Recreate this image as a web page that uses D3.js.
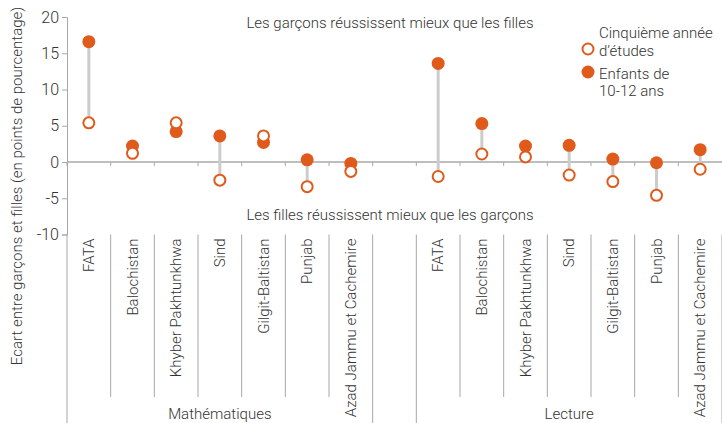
<!DOCTYPE html>
<html>
<head>
<meta charset="utf-8">
<script src="https://cdn.jsdelivr.net/npm/d3@7"></script>
<style>
  body { margin: 0; background: #fff; }
  text { font-family: "Roboto", sans-serif; font-weight: 300; fill: #333; }
</style>
</head>
<body>
<div id="chart-area"></div>
<script>
var regions = ["FATA", "Balochistan", "Khyber Pakhtunkhwa", "Sind", "Gilgit-Baltistan", "Punjab", "Azad Jammu et Cachemire"];
var subjects = ["Mathématiques", "Lecture"];
var grade5 = [
    [5.4, 1.2, 5.4, -2.5, 3.6, -3.4, -1.3],
    [-2.0, 1.1, 0.7, -1.8, -2.7, -4.6, -1.0]
];
var age1012 = [
    [16.6, 2.2, 4.2, 3.6, 2.7, 0.3, -0.2],
    [13.6, 5.3, 2.2, 2.3, 0.4, -0.1, 1.7]
];
var yTicks = [20, 15, 10, 5, 0, -5, -10];

var width = 722;
var height = 423;
var orange = "#e05a1b";
var axisGrey = "#a8a8a8";

// one slot per region, plus an empty slot between the two subjects
var slots = [];
subjects.forEach(function(s, i) {
    if (i > 0) slots.push("gap");
    regions.forEach(function(r) { slots.push(s + "|" + r); });
});

var data = [];
subjects.forEach(function(s, i) {
    regions.forEach(function(r, j) {
        data.push({ key: s + "|" + r, region: r, open: grade5[i][j], filled: age1012[i][j] });
    });
});

var svg = d3.select("#chart-area")
    .append("svg")
    .attr("width", width)
    .attr("height", height);

var x = d3.scaleBand()
    .domain(slots)
    .range([67, 722]);

var y = d3.scaleLinear()
    .domain([-10, 20])
    .range([234.5, 17]);

// y axis
var yAxis = svg.append("g")
    .attr("transform", "translate(67,0)")
    .call(d3.axisLeft(y).tickValues(yTicks).tickSize(5).tickPadding(3)
        .tickFormat(function(d) { return String(d); }));
yAxis.select(".domain").attr("stroke", axisGrey);
yAxis.selectAll(".tick line").attr("stroke", axisGrey);
yAxis.selectAll(".tick text")
    .style("font-size", "16px")
    .style("font-family", "Roboto, sans-serif")
    .style("font-weight", 300)
    .attr("fill", "#333");

// zero line with band ticks
svg.append("line")
    .attr("x1", 67).attr("x2", width)
    .attr("y1", y(0)).attr("y2", y(0))
    .attr("stroke", axisGrey).attr("stroke-width", 1.5);

svg.selectAll(".zt")
    .data(slots)
    .enter()
    .append("line")
    .attr("class", "zt")
    .attr("x1", function(d) { return x(d); })
    .attr("x2", function(d) { return x(d); })
    .attr("y1", y(0))
    .attr("y2", y(0) + 4)
    .attr("stroke", axisGrey);

// category separators below the plot
var bottom = 397;
var groupBottom = 423;
var sepXs = [];
slots.forEach(function(d, i) {
    var prev = slots[i - 1];
    var full = i === 0 || d === "gap" || prev === "gap";
    sepXs.push({ x: x(d), full: full });
});
sepXs.push({ x: x.range()[1], full: true });

svg.selectAll(".sep")
    .data(sepXs)
    .enter()
    .append("line")
    .attr("class", "sep")
    .attr("x1", function(d) { return d.x; })
    .attr("x2", function(d) { return d.x; })
    .attr("y1", y(-10))
    .attr("y2", function(d) { return d.full ? groupBottom : bottom; })
    .attr("stroke", axisGrey);

// rotated region labels
svg.selectAll(".cat")
    .data(data)
    .enter()
    .append("text")
    .attr("class", "cat")
    .attr("transform", function(d) {
        return "translate(" + (x(d.key) + x.bandwidth() / 2 + 5) + "," + (y(-10) + 4) + ") rotate(-90)";
    })
    .attr("text-anchor", "end")
    .style("font-size", "15px")
    .text(function(d) { return d.region; });

// subject labels
subjects.forEach(function(s) {
    var x0 = x(s + "|" + regions[0]);
    var x1 = x(s + "|" + regions[regions.length - 1]) + x.bandwidth();
    svg.append("text")
        .attr("x", (x0 + x1) / 2)
        .attr("y", 419)
        .attr("text-anchor", "middle")
        .style("font-size", "15px")
        .text(s);
});

// connectors
svg.selectAll(".conn")
    .data(data)
    .enter()
    .append("line")
    .attr("class", "conn")
    .attr("x1", function(d) { return x(d.key) + x.bandwidth() / 2; })
    .attr("x2", function(d) { return x(d.key) + x.bandwidth() / 2; })
    .attr("y1", function(d) { return y(d.open); })
    .attr("y2", function(d) { return y(d.filled); })
    .attr("stroke", "#cccccc")
    .attr("stroke-width", 3);

svg.selectAll(".filled")
    .data(data)
    .enter()
    .append("circle")
    .attr("class", "filled")
    .attr("cx", function(d) { return x(d.key) + x.bandwidth() / 2; })
    .attr("cy", function(d) { return y(d.filled); })
    .attr("r", 6.5)
    .attr("fill", orange);

svg.selectAll(".open")
    .data(data)
    .enter()
    .append("circle")
    .attr("class", "open")
    .attr("cx", function(d) { return x(d.key) + x.bandwidth() / 2; })
    .attr("cy", function(d) { return y(d.open); })
    .attr("r", 5.5)
    .attr("fill", "#fff")
    .attr("stroke", orange)
    .attr("stroke-width", 2);

// y axis title
svg.append("text")
    .attr("transform", "translate(22,186) rotate(-90)")
    .attr("text-anchor", "middle")
    .style("font-size", "15px")
    .text("Ecart entre garçons et filles (en points de pourcentage)");

// annotations
svg.append("text")
    .attr("x", 390).attr("y", 28)
    .attr("text-anchor", "middle")
    .style("font-size", "15px")
    .text("Les garçons réussissent mieux que les filles");

svg.append("text")
    .attr("x", 390).attr("y", 220)
    .attr("text-anchor", "middle")
    .style("font-size", "15px")
    .text("Les filles réussissent mieux que les garçons");

// legend
var legend = svg.append("g").attr("transform", "translate(588,0)");
legend.append("circle")
    .attr("cx", 0).attr("cy", 49).attr("r", 5.5)
    .attr("fill", "#fff").attr("stroke", orange).attr("stroke-width", 2);
legend.append("circle")
    .attr("cx", 0).attr("cy", 72).attr("r", 6.5)
    .attr("fill", orange);
var legendLines = [["Cinquième année", 38], ["d’études", 56], ["Enfants de", 79], ["10-12 ans", 96]];
legend.selectAll(".lt")
    .data(legendLines)
    .enter()
    .append("text")
    .attr("class", "lt")
    .attr("x", 11)
    .attr("y", function(d) { return d[1]; })
    .style("font-size", "15px")
    .text(function(d) { return d[0]; });
</script>
</body>
</html>
